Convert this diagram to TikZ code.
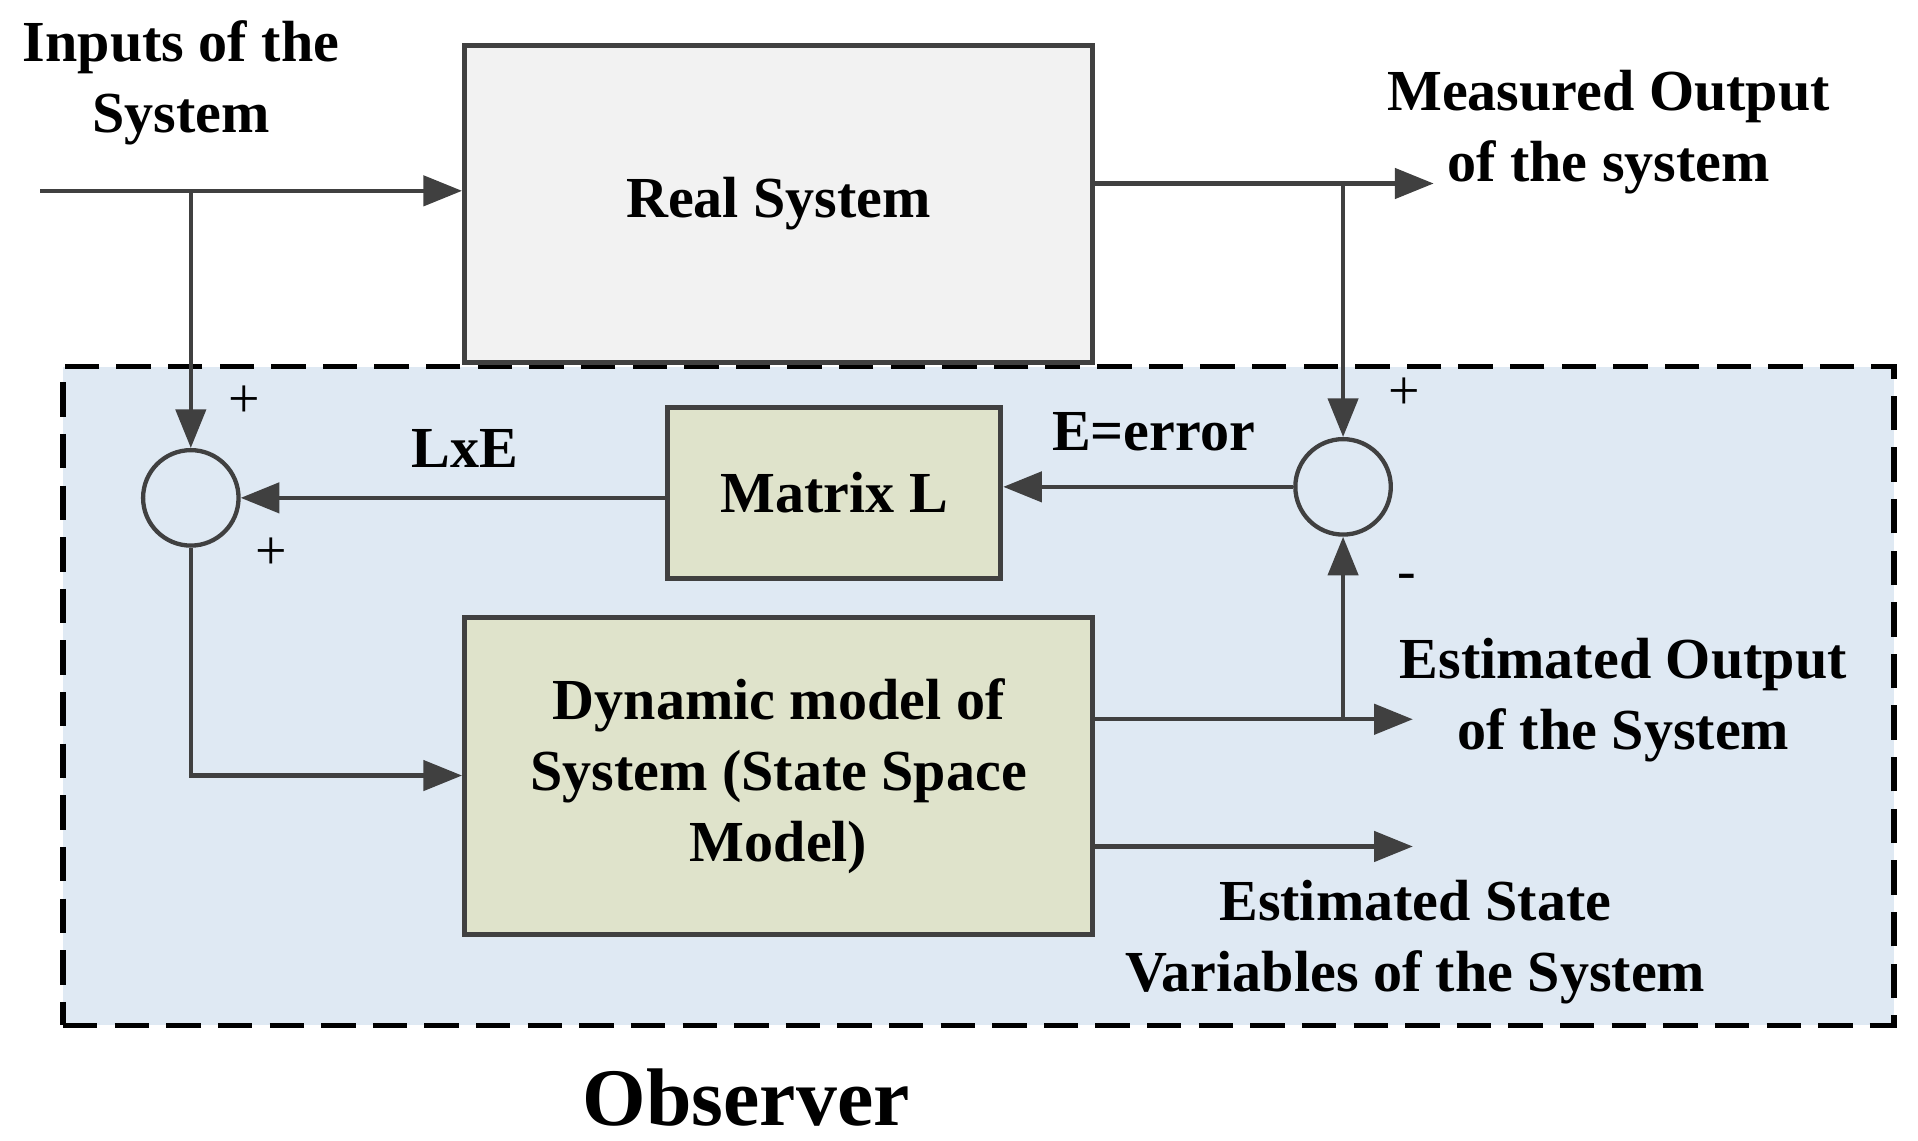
\documentclass[tikz,border=0pt]{standalone}
\usepackage{fontspec}
\setmainfont{Liberation Serif}
\usetikzlibrary{arrows.meta}
\definecolor{obs}{HTML}{DFE9F3}
\definecolor{grn}{HTML}{DFE3CB}
\definecolor{gry}{HTML}{F2F2F2}
\definecolor{ln}{HTML}{404040}
\begin{document}
\begin{tikzpicture}[x=0.01cm,y=-0.01cm,
  box/.style={draw=ln,line width=1.2pt,align=center,font=\fontsize{13.5}{16.5}\selectfont\bfseries},
  sumc/.style={circle,draw=ln,line width=1pt,minimum size=0.78cm,inner sep=0},
  ar/.style={draw=ln,line width=1pt,-{Triangle[length=9pt,width=7pt]}},
  lab/.style={font=\fontsize{13.5}{16.5}\selectfont\bfseries,align=center},
  pm/.style={font=\fontsize{13}{16}\selectfont}]
\useasboundingbox (0,0) rectangle (1568,932);
\node[draw=black,line width=1.2pt,dash pattern=on 8pt off 4pt,fill=obs,minimum width=14.96cm,minimum height=5.38cm,inner sep=0] (obsbox) at (800,569) {};
\node[box,fill=gry,minimum width=5.13cm,minimum height=2.59cm] (real) at (636.5,166.5) {Real System};
\node[box,fill=grn,minimum width=2.72cm,minimum height=1.40cm] (mat) at (682,403) {Matrix L};
\node[box,fill=grn,minimum width=5.13cm,minimum height=2.59cm] (dyn) at (636.5,634.5) {Dynamic model of\\System (State Space\\Model)};
\node[sumc] (s1) at (156,407) {};
\node[sumc] (s2) at (1098,398) {};
\coordinate (in) at (33,156);
\coordinate (j1) at (156,156);
\coordinate (mo) at (1172,150);
\coordinate (j2) at (1098,150);
\coordinate (c1) at (156,634);
\coordinate (eo) at (1155,588);
\coordinate (j3) at (1098,588);
\coordinate (es) at (1155,692);
\draw[ar] (in) -- (real.west |- in);
\draw[ar] (j1) -- (s1.north);
\draw[ar] (real.east |- mo) -- (mo);
\draw[ar] (j2) -- (s2.north);
\draw[ar] (s2.west) -- (mat.east |- s2);
\draw[ar] (mat.west |- s1) -- (s1.east);
\draw[ar] (s1.south) -- (c1) -- (dyn.west |- c1);
\draw[ar] (dyn.east |- eo) -- (eo);
\draw[ar] (j3) -- (s2.south);
\draw[ar] (dyn.east |- es) -- (es);
\node[lab] (t1) at (148,68) {Inputs of the\\System};
\node[lab] (t2) at (1315,108) {Measured Output\\of the system};
\node[pm] (p1) at (200,328) {+};
\node[pm] (p2) at (222,453) {+};
\node[pm] (p3) at (1148,322) {+};
\node[pm] (p4) at (1150,476) {-};
\node[lab] (t3) at (380,367) {LxE};
\node[lab] (t4) at (943,353) {E=error};
\node[lab] (t5) at (1327,572) {Estimated Output\\of the System};
\node[lab] (t6) at (1157,770) {Estimated State\\Variables of the System};
\node[font=\fontsize{19}{22}\selectfont\bfseries] (t7) at (610,897) {Observer};
\end{tikzpicture}
\end{document}
